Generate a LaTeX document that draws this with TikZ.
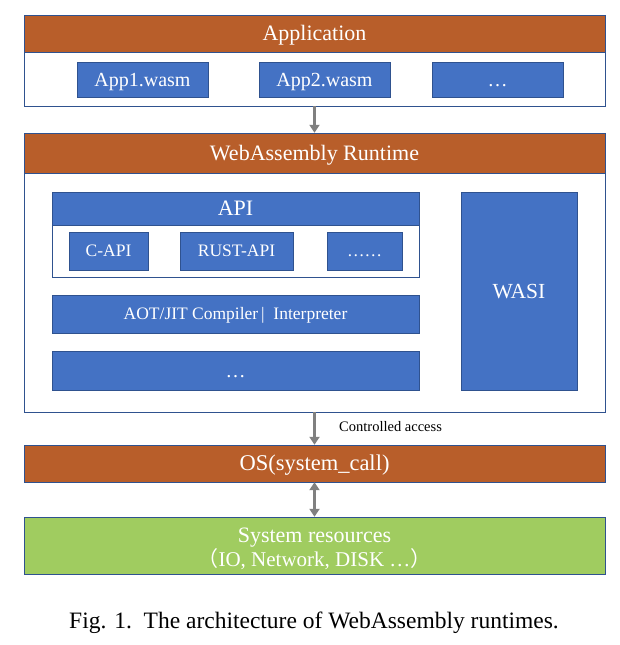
\documentclass[tikz,border=0pt]{standalone}
\usepackage{fontspec}
\setmainfont{Liberation Serif}
\newfontfamily\cjk{Noto Sans CJK SC}
\usetikzlibrary{arrows.meta}

\definecolor{rustbar}{RGB}{184,94,42}
\definecolor{appblue}{RGB}{68,114,196}
\definecolor{edgeblue}{RGB}{47,82,143}
\definecolor{resgreen}{RGB}{160,204,96}
\definecolor{arrowgray}{RGB}{128,128,128}

\begin{document}
\begin{tikzpicture}[x=1pt, y=-1pt,
  bar/.style={rectangle, draw=edgeblue, fill=rustbar, text=white, minimum width=581pt, inner sep=0pt, text height=14.5pt, text depth=0pt, font=\fontsize{22}{24}\selectfont},
  panel/.style={rectangle, draw=edgeblue, fill=white, inner sep=0pt},
  block/.style={rectangle, draw=edgeblue, fill=appblue, text=white, inner sep=0pt, text height=13.2pt, text depth=0pt, font=\fontsize{20}{22}\selectfont},
  small/.style={text height=11.6pt, font=\fontsize{17.5}{19}\selectfont},
  link/.style={draw=arrowgray, line width=2.8pt, -{Triangle[length=8pt,width=10pt]}}]

\useasboundingbox (0,0) rectangle (619,645);

% Application layer
\node[bar, minimum height=37pt] (app) at (314.5,33.5) {Application};
\node[panel, minimum width=581pt, minimum height=54pt] (apppanel) at (314.5,79) {};
\foreach \n/\x/\t in {app1/142.5/App1.wasm, app2/324.5/App2.wasm, appmore/497.5/…} {
    \node[block, minimum width=131pt, minimum height=35pt] (\n) at (\x,80) {\t};
}

% WebAssembly runtime
\node[bar, minimum height=40pt] (runtime) at (314.5,153) {WebAssembly Runtime};
\node[panel, minimum width=581pt, minimum height=239pt] (rtpanel) at (314.5,292.5) {};

% the API group
\node[block, minimum width=367pt, minimum height=33pt, text height=14.5pt, font=\fontsize{22}{24}\selectfont] (api) at (235.5,208.5) {API};
\node[panel, minimum width=367pt, minimum height=52pt] (apipanel) at (235.5,251) {};
\foreach \n/\x/\w/\t in {capi/108.5/79/C-API, rustapi/236.5/113/RUST-API, apimore/364.5/75/……} {
    \node[block, small, minimum width=\w pt, minimum height=38pt] (\n) at (\x,251) {\t};
}

\node[block, small, minimum width=367pt, minimum height=38pt] (engine) at (235.5,314) {AOT/JIT Compiler\,|\ \ Interpreter};
\node[block, minimum width=367pt, minimum height=39pt] (rtmore) at (235.5,370.5) {…};
\node[block, minimum width=116pt, minimum height=198pt, text height=14.2pt, font=\fontsize{21.5}{23}\selectfont] (wasi) at (519,291) {WASI};

% OS and resources
\node[bar, minimum height=37pt, text height=14.9pt, font=\fontsize{22.5}{24}\selectfont] (os) at (314.5,463.5) {OS(system\_call)};
\node[rectangle, draw=edgeblue, fill=resgreen, text=white, minimum width=581pt, minimum height=57pt, inner sep=0pt, align=center, text height=41pt, text depth=0pt, font=\fontsize{22}{24}\selectfont] (res) at (314.5,545.5) {System resources\\{\fontsize{21}{24}\selectfont\cjk（}{\fontsize{21}{24}\selectfont IO, Network, DISK …}{\fontsize{21}{24}\selectfont\cjk）}};

% the arrows
\draw[link] (apppanel) -- (runtime);
\draw[link] (rtpanel) -- node[right, xshift=20pt, yshift=2pt, font=\fontsize{14.5}{16}\selectfont, text=black] {Controlled access} (os);
\draw[link, {Triangle[length=8pt,width=10pt]}-{Triangle[length=8pt,width=10pt]}] (os) -- (res);

% caption
\node[font=\fontsize{23.5}{25}\selectfont] (caption) at (314,623) {Fig. 1.\ \ The architecture of WebAssembly runtimes.};
\end{tikzpicture}
\end{document}
